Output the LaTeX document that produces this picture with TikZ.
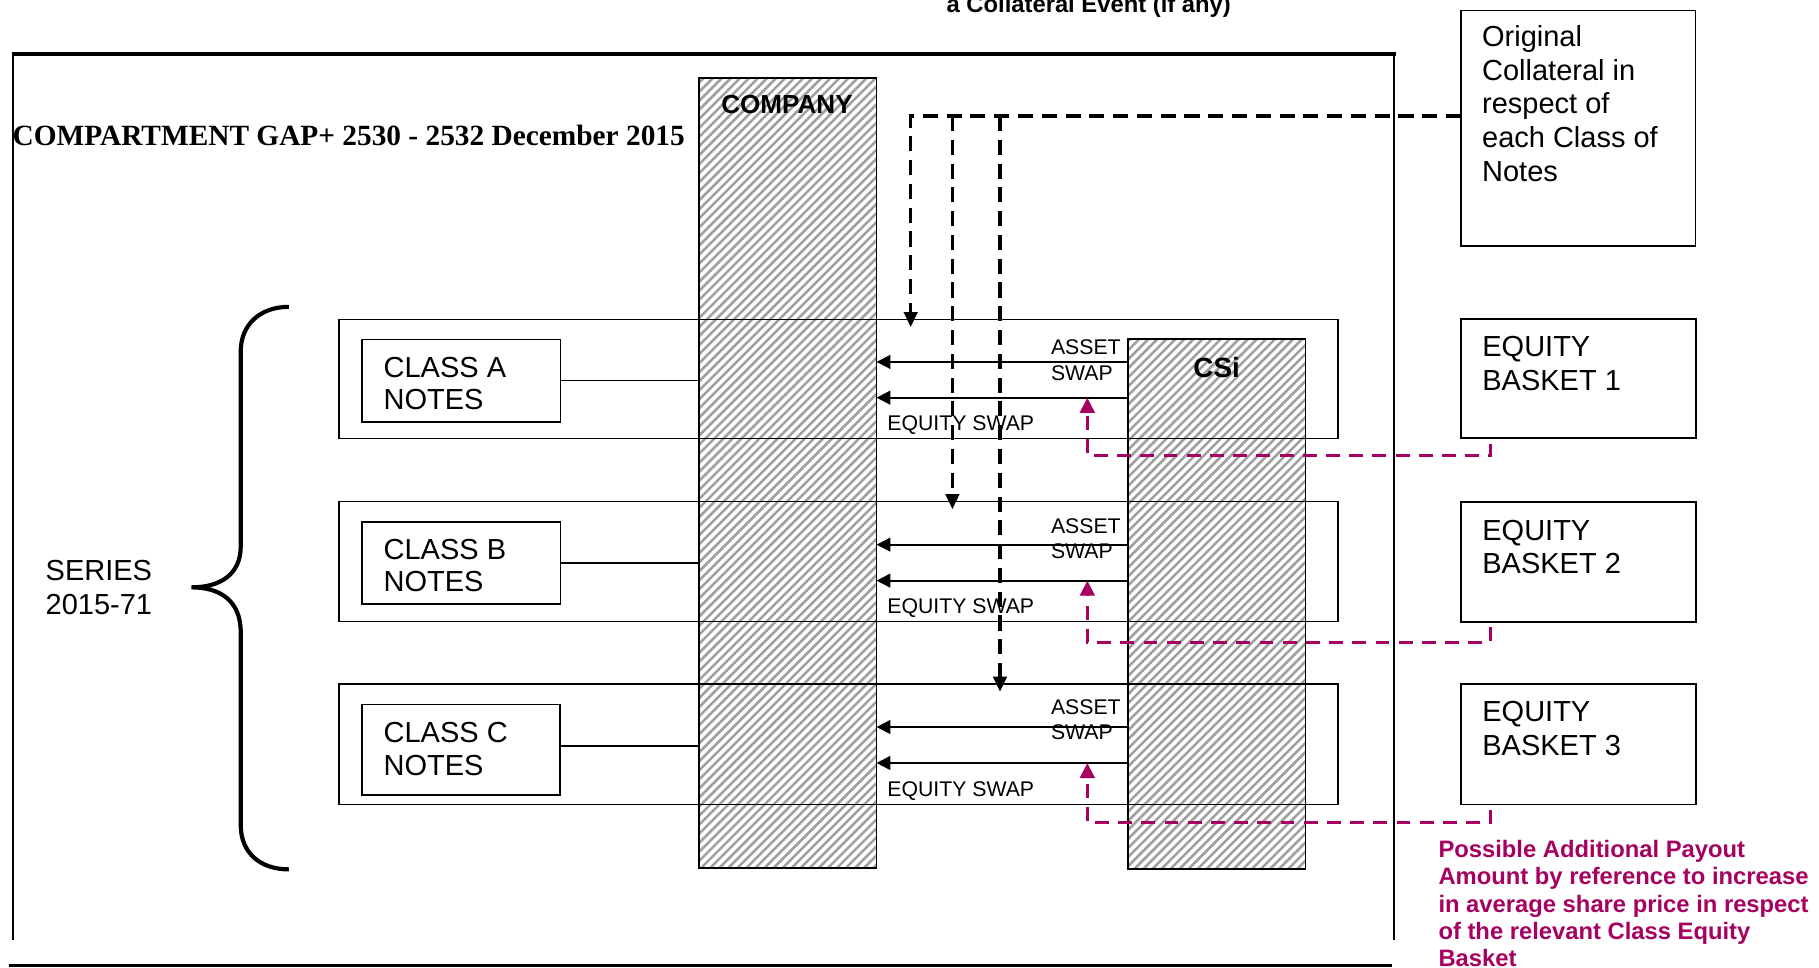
\documentclass[tikz,border=0pt]{standalone}
\usepackage{fontspec}
\setmainfont{Liberation Sans}
\newfontfamily\titlefont{Liberation Serif}
\usetikzlibrary{arrows.meta}
\definecolor{mag}{RGB}{166,0,96}
\definecolor{hatchgray}{RGB}{160,160,160}
\newcommand{\mlines}[1]{\begin{tabular}[t]{@{}l@{}}#1\end{tabular}}
\begin{document}
\begin{tikzpicture}[x=1pt,y=-1pt,
  every node/.style={inner sep=0pt, outer sep=0pt},
  boxshape/.style={draw, line width=1.4pt, anchor=north west},
  rowshape/.style={draw, line width=1.3pt, anchor=north west},
  colshape/.style={fill=white, anchor=north west},
  hatchline/.style={hatchgray, line width=2.2pt},
  txtbig/.style={font=\fontsize{25}{29}\selectfont, anchor=base west},
  txtclass/.style={font=\fontsize{25}{28.1}\selectfont, anchor=base west},
  txtswap/.style={font=\fontsize{18.3}{21.7}\selectfont, anchor=base west},
  swaparrow/.style={line width=1.6pt, -{Triangle[length=12pt,width=12pt]}},
  blkdash/.style={line width=2.8pt, dash pattern=on 13pt off 7.5pt, -{Triangle[length=13pt,width=11.5pt]}},
  magdash/.style={mag, line width=2.8pt, dash pattern=on 12pt off 8pt, -{Triangle[length=13pt,width=12.5pt]}},
  plainline/.style={line width=1.6pt}
]
\useasboundingbox (0,0) rectangle (1568,834.4);

% ---------- outer frame ----------
\draw[line width=2.8pt] (10,46.5) -- (1203,46.5);
\draw[line width=1.8pt] (11,46.5) -- (11,810);
\draw[line width=1.8pt] (1202,46.5) -- (1202,810);
\draw[line width=2.4pt] (8,832.5) -- (1200,832.5);

% ---------- top texts ----------
\node[font=\fontsize{20.5}{24}\selectfont\bfseries, anchor=base] (collev) at (938.5,11) {a Collateral Event (if any)};
\node[font=\titlefont\bfseries\fontsize{25.3}{30}\selectfont, anchor=base west] (title) at (10.9,125) {COMPARTMENT GAP+ 2530 - 2532 December 2015};

% ---------- hatched columns ----------
\node[colshape, minimum width=153pt, minimum height=680.5pt] (company) at (602.6,67.5) {};
\begin{scope}
  \clip (company.south west) rectangle (company.north east);
  \foreach \k in {0,...,115} \draw[hatchline] ({602.6-700+\k*7.8},748) -- ++(700,-700);
\end{scope}
\draw[plainline] (company.south west) rectangle (company.north east);
\node[font=\fontsize{22.5}{27}\selectfont\bfseries, anchor=base] (companylbl) at (678.4,97.7) {COMPANY};

\node[colshape, minimum width=153.3pt, minimum height=456.5pt] (csi) at (972,292.5) {};
\begin{scope}
  \clip (csi.south west) rectangle (csi.north east);
  \foreach \k in {0,...,85} \draw[hatchline] ({972-470+\k*7.8},749) -- ++(470,-470);
\end{scope}
\draw[plainline] (csi.south west) rectangle (csi.north east);
\node[font=\fontsize{24}{28}\selectfont\bfseries, anchor=base] (csilbl) at (1048.8,325.3) {CSi};

% ---------- series rows ----------
\node[rowshape, minimum width=861pt, minimum height=103pt] (rowA) at (292.2,275.2) {};
\node[rowshape, minimum width=861pt, minimum height=103.6pt] (rowB) at (292.2,432.3) {};
\node[rowshape, minimum width=861pt, minimum height=103.6pt] (rowC) at (292.2,589.8) {};

% ---------- class boxes ----------
\node[boxshape, minimum width=171pt, minimum height=71pt] (classA) at (312.3,292.5) {};
\node[boxshape, minimum width=171pt, minimum height=70.7pt] (classB) at (312.3,449.7) {};
\node[boxshape, minimum width=170.5pt, minimum height=78pt] (classC) at (312.3,607.2) {};
\node[txtclass] (classAtxt) at (330.7,325.3) {\mlines{CLASS A\\NOTES}};
\node[txtclass] (classBtxt) at (330.7,482.2) {\mlines{CLASS B\\NOTES}};
\node[txtclass] (classCtxt) at (330.7,640) {\mlines{CLASS C\\NOTES}};

\draw[plainline] (classA.east) -- (classA.east -| company.west);
\draw[plainline] (classB.east) -- (classB.east -| company.west);
\draw[line width=2.2pt] (classC.east |- 0,643) -- (company.west |- 0,643);

% ---------- brace and series label ----------
\draw[line width=3.6pt] (249,264.5) .. controls (224,264.5) and (207.5,280) .. (207.5,303)
  -- (207.5,471) .. controls (207.5,495) and (190,506.3) .. (165,506.3)
  .. controls (190,506.3) and (207.5,518) .. (207.5,545)
  -- (207.5,711) .. controls (207.5,735) and (224,749.4) .. (249,749.4);
\node[font=\fontsize{25}{29.6}\selectfont, anchor=base west] (series) at (39.4,500) {\mlines{SERIES\\2015-71}};

% ---------- swap arrows ----------
\draw[swaparrow] (csi.west |- 0,312) -- (company.east |- 0,312);
\draw[swaparrow] (csi.west |- 0,342.8) -- (company.east |- 0,342.8);
\draw[swaparrow] (csi.west |- 0,469.5) -- (company.east |- 0,469.5);
\draw[swaparrow] (csi.west |- 0,500.5) -- (company.east |- 0,500.5);
\draw[swaparrow] (csi.west |- 0,626.7) -- (company.east |- 0,626.7);
\draw[swaparrow] (csi.west |- 0,657.7) -- (company.east |- 0,657.7);

\node[txtswap] (asA) at (906,306) {\mlines{ASSET\\SWAP}};
\node[txtswap] (asB) at (906,459.7) {\mlines{ASSET\\SWAP}};
\node[txtswap] (asC) at (906,616) {\mlines{ASSET\\SWAP}};
\node[txtswap] (esA) at (765,371.5) {EQUITY SWAP};
\node[txtswap] (esB) at (765,528.7) {EQUITY SWAP};
\node[txtswap] (esC) at (765,686.7) {EQUITY SWAP};

% ---------- right-hand boxes ----------
\node[boxshape, minimum width=202pt, minimum height=202.8pt] (orig) at (1259.5,9.2) {};
\node[txtbig] (origtxt) at (1277.6,40.2) {\mlines{Original\\Collateral in\\respect of\\each Class of\\Notes}};

\node[boxshape, minimum width=202.5pt, minimum height=103pt] (bA) at (1259.5,274.8) {};
\node[boxshape, minimum width=202.5pt, minimum height=103.4pt] (bB) at (1259.5,432.6) {};
\node[boxshape, minimum width=202.5pt, minimum height=103.8pt] (bC) at (1259.5,589.6) {};
\node[txtbig] (bAtxt) at (1277.8,307.6) {\mlines{EQUITY\\BASKET 1}};
\node[txtbig] (bBtxt) at (1277.8,465.5) {\mlines{EQUITY\\BASKET 2}};
\node[txtbig] (bCtxt) at (1277.8,622.2) {\mlines{EQUITY\\BASKET 3}};

% ---------- collateral dashed connectors ----------
\coordinate (tipA) at (785,282);
\coordinate (jB) at (821,100);
\coordinate (tipB) at (821,439);
\coordinate (jC) at (862,100);
\coordinate (tipC) at (862,596.3);
\draw[blkdash] (orig.west |- 0,100) -- (785,100) -- (tipA);
\draw[blkdash] (jB) -- (tipB);
\draw[blkdash] (jC) -- (tipC);

% ---------- payout dashed connectors ----------
\coordinate (eqA) at (937.3,342.8);
\coordinate (eqB) at (937.3,500.5);
\coordinate (eqC) at (937.3,657.7);
\draw[magdash] ([xshift=25pt,yshift=-4.5pt]bA.south west) |- (937.3,392.8) -- (eqA);
\draw[magdash] ([xshift=25pt,yshift=-4.5pt]bB.south west) |- (937.3,553.7) -- (eqB);
\draw[magdash] ([xshift=25pt,yshift=-4.5pt]bC.south west) |- (937.3,709.2) -- (eqC);

\node[font=\fontsize{20.5}{23.6}\selectfont\bfseries, text=mag, anchor=base west] (payout) at (1240,739)
  {\mlines{Possible Additional Payout\\Amount by reference to increase\\in average share price in respect\\of the relevant Class Equity\\Basket}};
\end{tikzpicture}
\end{document}
